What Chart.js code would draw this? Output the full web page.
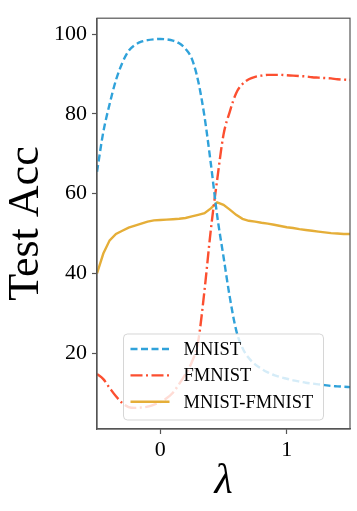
<!DOCTYPE html>
<html>
<head>
<meta charset="utf-8">
<script src="https://cdn.jsdelivr.net/npm/chart.js@4"></script>
<style>
  html, body { margin: 0; padding: 0; background: #fff; }
</style>
</head>
<body>
<canvas id="accChart" width="357" height="511"></canvas>
<script>
// lambda values (x axis)
const lambdas = [-0.5, -0.45, -0.4, -0.35, -0.3, -0.25, -0.2, -0.15, -0.1, -0.05,
  0, 0.05, 0.1, 0.15, 0.2, 0.25, 0.3, 0.35, 0.4, 0.45,
  0.5, 0.55, 0.6, 0.65, 0.7, 0.75, 0.8, 0.85, 0.9, 0.95,
  1, 1.05, 1.1, 1.15, 1.2, 1.25, 1.3, 1.35, 1.4, 1.45, 1.5];

// test accuracy per series
const mnist = [65.5, 75.5, 82.5, 88.5, 92.8, 95.8, 97.3, 98.1, 98.5, 98.7,
  98.8, 98.7, 98.4, 97.7, 96.3, 93.8, 88.2, 79.3, 67.5, 54.5,
  44.2, 34.0, 25.8, 21.3, 18.8, 17.2, 16.1, 15.2, 14.5, 14.0,
  13.6, 13.2, 12.9, 12.6, 12.4, 12.2, 12.0, 11.8, 11.7, 11.6, 11.5];
const fmnist = [14.8, 13.5, 11.3, 9.2, 7.5, 6.5, 6.3, 6.4, 6.6, 7.1,
  7.7, 8.7, 10.1, 12.3, 14.8, 17.8, 23.0, 35.8, 51.0, 63.5,
  74.8, 80.6, 85.2, 87.5, 88.7, 89.3, 89.6, 89.8, 89.8, 89.8,
  89.7, 89.6, 89.5, 89.4, 89.2, 89.1, 89.0, 88.9, 88.7, 88.6, 88.5];
const mixed = [40.0, 45.0, 48.3, 49.9, 50.7, 51.5, 52.0, 52.5, 53.0, 53.3,
  53.4, 53.5, 53.6, 53.7, 53.9, 54.3, 54.7, 55.1, 56.3, 57.8,
  57.2, 56.0, 54.7, 53.7, 53.2, 53.0, 52.7, 52.5, 52.2, 51.9,
  51.6, 51.4, 51.1, 50.9, 50.7, 50.5, 50.3, 50.1, 50.0, 49.9, 49.9];

const xTicks = [0, 1];
const yTicks = [20, 40, 60, 80, 100];

const serif = '"Liberation Serif", "DejaVu Serif", serif';
const spine = '#555';

function toPoints(values) {
  return lambdas.map((x, i) => ({ x: x, y: values[i] }));
}

// matplotlib-like frame round the plot area
const frame = {
  id: 'frame',
  afterDraw(chart) {
    const { ctx, chartArea: a } = chart;
    ctx.save();
    ctx.strokeStyle = spine;
    ctx.lineWidth = 1.2;
    ctx.strokeRect(a.left, a.top, a.right - a.left, a.bottom - a.top);
    ctx.restore();
  }
};

// legend inside the axes, lower center
const innerLegend = {
  id: 'innerLegend',
  afterDatasetsDraw(chart) {
    const { ctx, chartArea: a } = chart;
    const w = 200, h = 86;
    const x0 = (a.left + a.right) / 2 - w / 2;
    const y0 = a.bottom - 9 - h;
    ctx.save();
    ctx.beginPath();
    ctx.roundRect(x0, y0, w, h, 4);
    ctx.fillStyle = 'rgba(255,255,255,0.8)';
    ctx.fill();
    ctx.strokeStyle = 'rgba(204,204,204,0.8)';
    ctx.lineWidth = 1;
    ctx.stroke();
    chart.data.datasets.forEach((ds, i) => {
      const y = y0 + 15 + i * 26.4;
      ctx.beginPath();
      ctx.setLineDash(ds.borderDash || []);
      ctx.strokeStyle = ds.borderColor;
      ctx.lineWidth = ds.borderWidth;
      ctx.moveTo(x0 + 7, y);
      ctx.lineTo(x0 + 46, y);
      ctx.stroke();
      ctx.setLineDash([]);
      ctx.fillStyle = '#000';
      ctx.font = '18.5px ' + serif;
      ctx.textBaseline = 'middle';
      ctx.fillText(ds.label, x0 + 60, y + 1);
    });
    ctx.restore();
  }
};

const ctx = document.getElementById('accChart').getContext('2d');
const chart = new Chart(ctx, {
  type: 'line',
  data: {
    datasets: [
      {
        label: 'MNIST',
        data: toPoints(mnist),
        borderColor: '#30a2da',
        borderWidth: 2.4,
        borderDash: [7, 3.5],
        cubicInterpolationMode: 'monotone',
        pointRadius: 0,
        fill: false
      },
      {
        label: 'FMNIST',
        data: toPoints(fmnist),
        borderColor: '#fc4f30',
        borderWidth: 2.4,
        borderDash: [12, 3.5, 2, 3.5],
        cubicInterpolationMode: 'monotone',
        pointRadius: 0,
        fill: false
      },
      {
        label: 'MNIST-FMNIST',
        data: toPoints(mixed),
        borderColor: '#e5ae38',
        borderWidth: 2.4,
        tension: 0,
        pointRadius: 0,
        fill: false
      }
    ]
  },
  options: {
    responsive: false,
    animation: false,
    devicePixelRatio: 1,
    layout: { padding: { top: 7, right: 7, left: 0, bottom: 0 } },
    plugins: {
      legend: { display: false },
      tooltip: { enabled: false }
    },
    scales: {
      x: {
        type: 'linear',
        min: -0.5,
        max: 1.5,
        afterBuildTicks: (s) => { s.ticks = xTicks.map(v => ({ value: v })); },
        afterFit: (s) => { s.height = 82; },
        ticks: {
          font: { family: serif, size: 22 },
          color: '#000',
          padding: 3,
          maxRotation: 0,
          callback: (v) => String(v)
        },
        grid: { drawOnChartArea: false, tickLength: 5, tickColor: spine, tickWidth: 1.2 },
        border: { display: true, color: spine, width: 1.2 },
        title: {
          display: true,
          text: 'λ',
          color: '#000',
          font: { family: serif, size: 42, style: 'italic' },
          padding: { top: 0, bottom: 4 }
        }
      },
      y: {
        type: 'linear',
        min: 1,
        max: 104,
        afterBuildTicks: (s) => { s.ticks = yTicks.map(v => ({ value: v })); },
        afterFit: (s) => { s.width = 97; },
        ticks: {
          font: { family: serif, size: 22 },
          color: '#000',
          padding: 5,
          callback: (v) => String(v)
        },
        grid: { drawOnChartArea: false, tickLength: 5, tickColor: spine, tickWidth: 1.2 },
        border: { display: true, color: spine, width: 1.2 },
        title: {
          display: true,
          text: 'Test Acc',
          color: '#000',
          font: { family: serif, size: 44 },
          padding: { top: 0, bottom: 0 }
        }
      }
    }
  },
  plugins: [innerLegend, frame]
});
</script>
</body>
</html>
